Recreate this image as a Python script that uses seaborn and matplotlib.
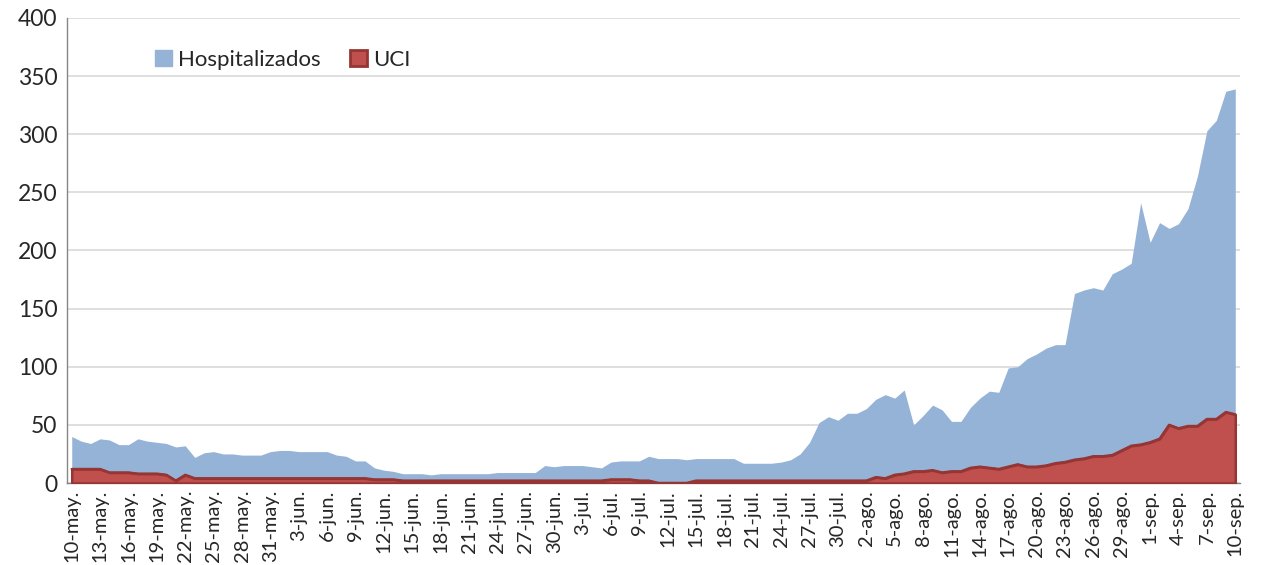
import pandas as pd
import numpy as np
import seaborn as sns
import matplotlib.pyplot as plt
from matplotlib.patches import Patch

# daily values 10-may .. 10-sep
hosp_may = [40, 36, 34, 38, 37, 33, 33, 38, 36, 35, 34, 31, 32, 22, 26, 27, 25, 25, 24, 24, 24, 27]
hosp_jun = [28, 28, 27, 27, 27, 27, 24, 23, 19, 19, 13, 11, 10, 8, 8, 8, 7, 8, 8, 8, 8, 8, 8, 9, 9, 9, 9, 9, 15, 14]
hosp_jul = [15, 15, 15, 14, 13, 18, 19, 19, 19, 23, 21, 21, 21, 20, 21, 21, 21, 21, 21, 17, 17, 17, 17, 18, 20, 25,
            35, 52, 57, 54, 60]
hosp_ago = [60, 64, 72, 76, 73, 80, 50, 58, 67, 63, 53, 53, 65, 73, 79, 78, 99, 100, 107, 111, 116, 119, 119, 163,
            166, 168, 166, 180, 184, 189, 241]
hosp_sep = [207, 224, 219, 223, 236, 264, 303, 312, 337, 339]

uci_may = [12, 12, 12, 12, 9, 9, 9, 8, 8, 8, 7, 2, 7, 4, 4, 4, 4, 4, 4, 4, 4, 4]
uci_jun = [4] * 10 + [3] * 3 + [2] * 17
uci_jul = [2] * 5 + [3] * 3 + [2] * 2 + [0] * 4 + [2] * 17
uci_ago = [2, 2, 5, 4, 7, 8, 10, 10, 11, 9, 10, 10, 13, 14, 13, 12, 14, 16, 14, 14, 15, 17, 18, 20, 21, 23, 23, 24,
           28, 32, 33]
uci_sep = [35, 38, 50, 47, 49, 49, 55, 55, 61, 59]

meses = [('may', 10, 31), ('jun', 1, 30), ('jul', 1, 31), ('ago', 1, 31), ('sep', 1, 10)]
fechas = [f"{d}-{m}." for m, a, b in meses for d in range(a, b + 1)]

df = pd.DataFrame({
    'fecha': fechas,
    'Hospitalizados': hosp_may + hosp_jun + hosp_jul + hosp_ago + hosp_sep,
    'UCI': uci_may + uci_jun + uci_jul + uci_ago + uci_sep,
})
df['dia'] = np.arange(len(df))

sns.set_style("white")
plt.rcParams['font.family'] = ['Lato', 'DejaVu Sans']

azul = '#95B3D7'
rojo = '#C0504D'
rojo_borde = '#963634'

fig = plt.figure(figsize=(12.62, 5.65), dpi=100)
ax = fig.add_axes([67 / 1262, 82 / 565, 1173 / 1262, 465 / 565])

ax.fill_between(df['dia'], df['Hospitalizados'], color=azul, linewidth=0, zorder=2)
ax.fill_between(df['dia'], df['UCI'], facecolor=rojo, edgecolor=rojo_borde, linewidth=1.8, zorder=3)
sns.lineplot(data=df, x='dia', y='UCI', color=rojo_borde, linewidth=1.8, ax=ax, zorder=4)

ax.set_xlim(-0.5, len(df) - 0.5)
ax.set_ylim(0, 400)
ax.set_yticks(range(0, 401, 50))
ax.yaxis.grid(True, color='#D9D9D9', linewidth=1.2)
ax.set_axisbelow(True)

ticks = df['dia'][::3]
ax.set_xticks(ticks)
ax.set_xticklabels(df['fecha'][::3], rotation=90, fontsize=14.5)
ax.set_xticks(np.append(ticks.values - 0.5, len(df) - 0.5), minor=True)
ax.tick_params(axis='x', which='major', length=0, pad=5)
ax.tick_params(axis='x', which='minor', length=5, width=1, color='#868686', direction='out')
ax.tick_params(axis='y', labelsize=16.5, length=0, pad=7)
ax.set_xlabel('')
ax.set_ylabel('')

for s in ['top', 'right']:
    ax.spines[s].set_visible(False)
for s in ['left', 'bottom']:
    ax.spines[s].set_color('#868686')
    ax.spines[s].set_linewidth(1)

handles = [Patch(facecolor=azul, edgecolor=azul),
           Patch(facecolor=rojo, edgecolor=rojo_borde, linewidth=2)]
ax.legend(handles, ['Hospitalizados', 'UCI'], loc='center left', bbox_to_anchor=(0.058, 0.91), ncol=2,
          frameon=False, fontsize=16, handlelength=0.75, handleheight=0.75, handletextpad=0.3, columnspacing=1.3)

plt.savefig('out.png', dpi=100)
